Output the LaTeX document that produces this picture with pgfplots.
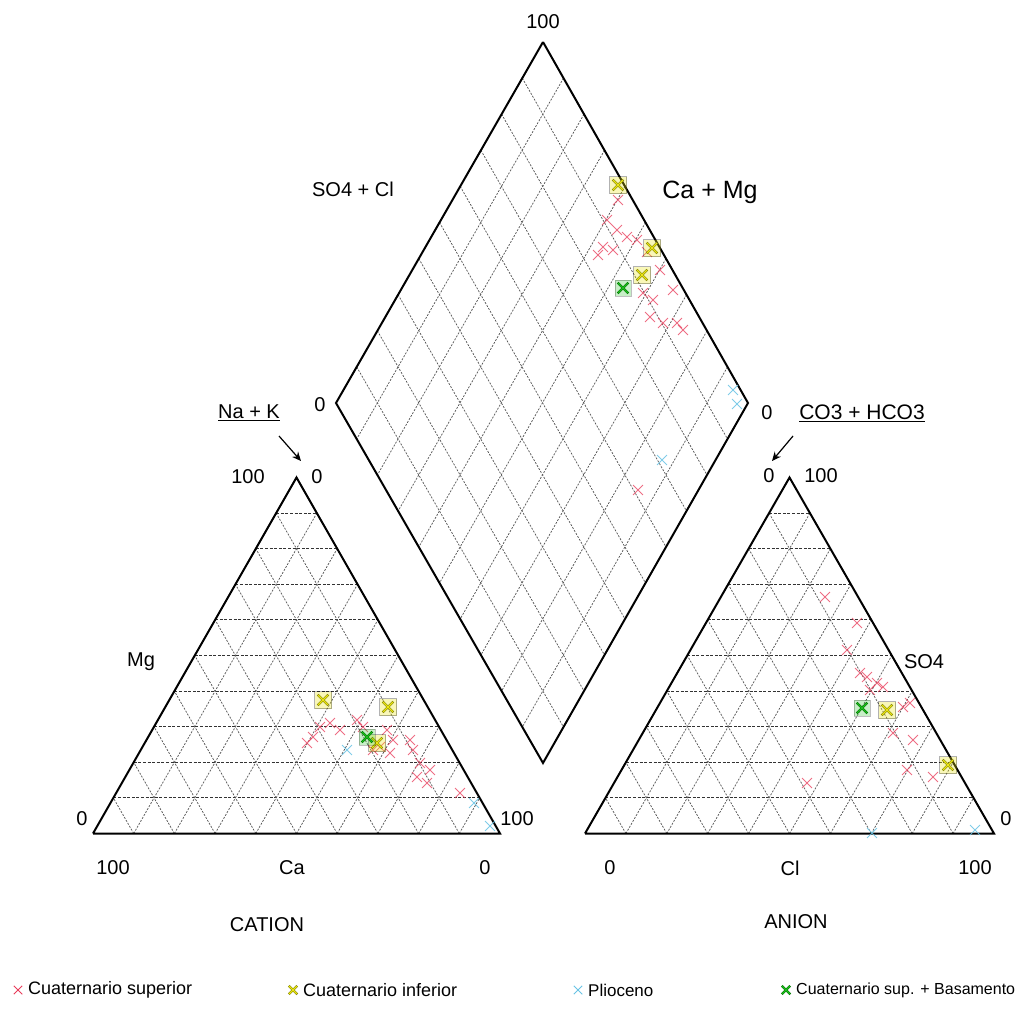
\documentclass[border=0pt]{standalone}
\usepackage{pgfplots}
\pgfplotsset{compat=1.18}
\usepackage{fontspec}
\setmainfont{Liberation Sans}
\usetikzlibrary{arrows.meta}
\definecolor{cred}{RGB}{232,60,90}
\definecolor{ccyan}{RGB}{105,195,228}
\definecolor{cyel}{RGB}{235,230,20}
\definecolor{colive}{RGB}{120,120,0}
\definecolor{cgreen}{RGB}{30,190,30}
\definecolor{cdgreen}{RGB}{0,110,0}
\newcommand{\lab}[1]{\fontsize{20}{24}\selectfont #1}
\begin{document}
\begin{tikzpicture}
\begin{axis}[
  width=1033pt, height=1012pt, scale only axis,
  xmin=0, xmax=1033, ymin=0, ymax=1012, y dir=reverse,
  axis lines=none, clip=false,
]
\path (axis cs:0,0) rectangle (axis cs:1033,1012);
% ---------- grids ----------
\pgfplotsinvokeforeach{1,...,9}{
  % left triangle
  \draw[black!80, line width=0.9pt, dash pattern=on 3pt off 1.6pt]
     (axis cs:{93+20.35*#1},{833.5-35.6*#1}) -- (axis cs:{500-20.35*#1},{833.5-35.6*#1});
  \draw[black!65, line width=0.75pt, dash pattern=on 2pt off 1.4pt]
     (axis cs:{93+40.7*#1},833.5) -- (axis cs:{500-20.35*(10-#1)},{833.5-35.6*(10-#1)});
  \draw[black!65, line width=0.75pt, dash pattern=on 2pt off 1.4pt]
     (axis cs:{93+40.7*#1},833.5) -- (axis cs:{93+20.35*#1},{833.5-35.6*#1});
  % right triangle
  \draw[black!80, line width=0.9pt, dash pattern=on 3pt off 1.6pt]
     (axis cs:{585+20.45*#1},{833.5-35.6*#1}) -- (axis cs:{994-20.45*#1},{833.5-35.6*#1});
  \draw[black!65, line width=0.75pt, dash pattern=on 2pt off 1.4pt]
     (axis cs:{585+40.9*#1},833.5) -- (axis cs:{994-20.45*(10-#1)},{833.5-35.6*(10-#1)});
  \draw[black!65, line width=0.75pt, dash pattern=on 2pt off 1.4pt]
     (axis cs:{585+40.9*#1},833.5) -- (axis cs:{585+20.45*#1},{833.5-35.6*#1});
  % diamond
  \draw[black!65, line width=0.75pt, dash pattern=on 2pt off 1.4pt]
     (axis cs:{543+20.5*#1},{42+36.1*#1}) -- (axis cs:{336+20.7*#1},{403+36*#1});
  \draw[black!65, line width=0.75pt, dash pattern=on 2pt off 1.4pt]
     (axis cs:{543-20.7*#1},{42+36.1*#1}) -- (axis cs:{748-20.5*#1},{403+36*#1});
}
% ---------- outlines ----------
\addplot[black, line width=2pt, line join=miter, forget plot] coordinates {(93,833.5) (500,833.5) (296.5,477.5) (93,833.5)};
\addplot[black, line width=2pt, line join=miter, forget plot] coordinates {(585,833.5) (994,833.5) (789.5,477.5) (585,833.5)};
\addplot[black, line width=2pt, line join=miter, forget plot] coordinates {(543,42) (748,403) (543,763) (336,403) (543,42)};

% ---------- Cuaternario superior (red) ----------
\addplot[only marks, mark=x, mark size=7pt, cred, opacity=0.75, line width=0.9pt] coordinates {
 (618,200) (607,220) (617,230) (603,247) (613,250) (627,237) (637,240) (647,252) (598,255)
 (660,270) (643,293) (653,300) (650,317) (673,290) (663,323) (677,323) (683,330) (638,490)
 (307,743) (313,737) (320,727) (330,723) (340,730) (357,720) (363,727) (387,730) (380,747)
 (390,753) (410,740) (413,750) (420,763) (430,770) (417,777) (427,783) (460,793) (373,750) (393,740)
 (825,597) (857,623) (847,650) (860,673) (867,677) (877,683) (883,687) (870,690) (903,707) (910,703)
 (893,733) (913,740) (907,770) (933,777) (807,783)
};
% ---------- Plioceno (cyan) ----------
\addplot[only marks, mark=x, mark size=7pt, ccyan, opacity=0.85, line width=1pt] coordinates {
 (733,390) (737,404) (662,460)
 (347,750) (474,803) (490,826)
 (872,833) (975,830)
};
% ---------- Cuaternario inferior (yellow) ----------
\addplot[only marks, mark=square*, mark size=8.5pt, draw=none, fill=cyel, opacity=0.3] coordinates {
 (618,185) (652,248) (642,275) (323,700) (388,707) (377,743) (887,710) (948,765)};
\addplot[only marks, mark=x, mark size=7.5pt, colive, line width=2.4pt] coordinates {
 (618,185) (652,248) (642,275) (323,700) (388,707) (377,743) (887,710) (948,765)};
\addplot[only marks, mark=x, mark size=7pt, cyel, line width=1.3pt] coordinates {
 (618,185) (652,248) (642,275) (323,700) (388,707) (377,743) (887,710) (948,765)};
% ---------- Cuaternario sup. + Basamento (green) ----------
\addplot[only marks, mark=square*, mark size=8pt, draw=none, fill=cgreen, opacity=0.25] coordinates {
 (623,288) (367,737) (862,708)};
\addplot[only marks, mark=x, mark size=7.5pt, cdgreen, line width=2.4pt] coordinates {
 (623,288) (367,737) (862,708)};
\addplot[only marks, mark=x, mark size=7pt, cgreen, line width=1.3pt] coordinates {
 (623,288) (367,737) (862,708)};

% ---------- labels ----------
\node at (axis cs:543,22) {\lab{100}};
\node at (axis cs:353,189) {\lab{SO4 + Cl}};
\node at (axis cs:710,192) {\fontsize{25}{30}\selectfont Ca + Mg};
\node at (axis cs:320,405) {\lab{0}};
\node at (axis cs:767,413) {\lab{0}};
\node at (axis cs:249,413) {\lab{\underline{Na + K}}};
\node at (axis cs:862,413) {\fontsize{21}{25}\selectfont\underline{CO3 + HCO3}};
\draw[black, line width=1.2pt, -{Stealth[length=9pt,width=8pt]}] (axis cs:279,436) -- (axis cs:301,461);
\draw[black, line width=1.2pt, -{Stealth[length=9pt,width=8pt]}] (axis cs:793,436) -- (axis cs:772,461);
\node at (axis cs:248,477) {\lab{100}};
\node at (axis cs:317,477) {\lab{0}};
\node at (axis cs:769,476) {\lab{0}};
\node at (axis cs:821,476) {\lab{100}};
\node at (axis cs:141,662) {\lab{Mg}};
\node at (axis cs:924,662) {\lab{SO4}};
\node at (axis cs:82,819) {\lab{0}};
\node at (axis cs:517,819) {\lab{100}};
\node at (axis cs:1006,819) {\lab{0}};
\node at (axis cs:113,868) {\lab{100}};
\node at (axis cs:292,868) {\lab{Ca}};
\node at (axis cs:485,868) {\lab{0}};
\node at (axis cs:610,868) {\lab{0}};
\node at (axis cs:790,868) {\lab{Cl}};
\node at (axis cs:975,868) {\lab{100}};
\node at (axis cs:267,925) {\lab{CATION}};
\node at (axis cs:796,922) {\lab{ANION}};

% ---------- legend ----------
\addplot[only marks, mark=x, mark size=6pt, cred, line width=0.9pt] coordinates {(18,990)};
\addplot[only marks, mark=x, mark size=6pt, colive, line width=2.2pt] coordinates {(293,990)};
\addplot[only marks, mark=x, mark size=5.6pt, cyel, line width=1.1pt] coordinates {(293,990)};
\addplot[only marks, mark=x, mark size=6pt, ccyan, line width=1pt] coordinates {(578,990)};
\addplot[only marks, mark=x, mark size=6pt, cdgreen, line width=2.2pt] coordinates {(786,990)};
\addplot[only marks, mark=x, mark size=5.6pt, cgreen, line width=1.1pt] coordinates {(786,990)};
\node[anchor=west, inner sep=0pt] at (axis cs:28,990) {\fontsize{18}{21}\selectfont Cuaternario superior};
\node[anchor=west, inner sep=0pt] at (axis cs:303,990) {\fontsize{18}{21}\selectfont Cuaternario inferior};
\node[anchor=west, inner sep=0pt] at (axis cs:588,990) {\fontsize{17}{20}\selectfont Plioceno};
\node[anchor=west, inner sep=0pt] at (axis cs:796,990) {\fontsize{16}{19}\selectfont Cuaternario sup. + Basamento};
\end{axis}
\end{tikzpicture}
\end{document}
